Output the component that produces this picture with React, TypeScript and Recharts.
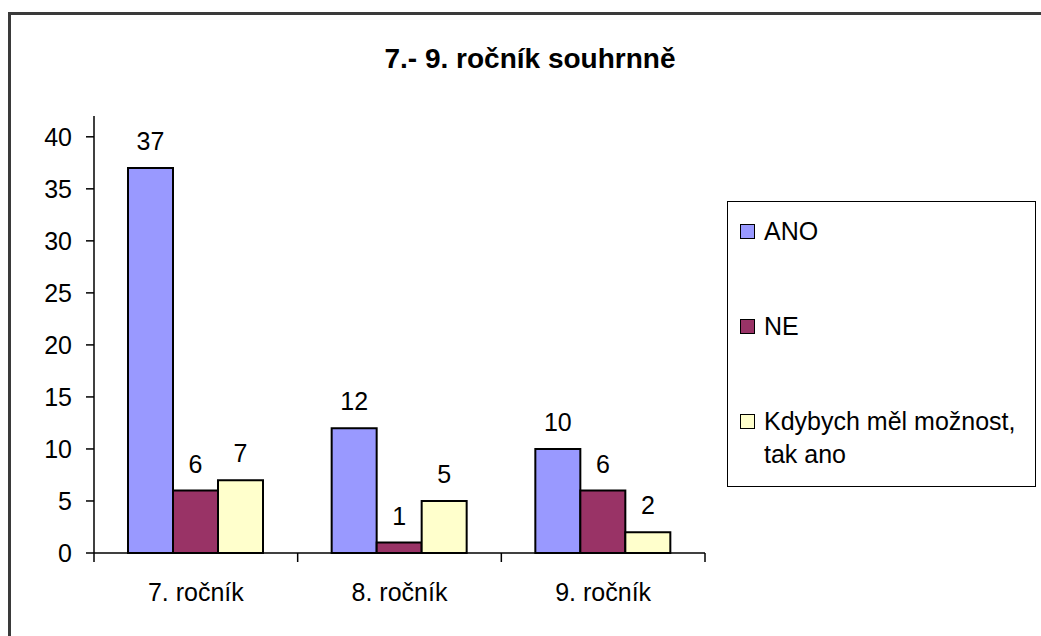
import React from 'react';
import { BarChart, Bar, XAxis, YAxis, CartesianGrid, Legend, LabelList } from 'recharts';

const categories = ['7. ročník', '8. ročník', '9. ročník'];
const anoValues = [37, 12, 10];
const neValues = [6, 1, 6];
const kdybyValues = [7, 5, 2];
const seriesNames = ['ANO', 'NE', 'Kdybych měl možnost, tak ano'];
const yTicks = [0, 5, 10, 15, 20, 25, 30, 35, 40];

const data = categories.map((cat, i) => ({
  cat,
  ano: anoValues[i],
  ne: neValues[i],
  kdyby: kdybyValues[i],
}));

const FONT = '"Liberation Sans", Arial, sans-serif';

function CategoryTick(props: any) {
  const { x, y, payload, index, visibleTicksCount } = props;
  const half = payload && payload.offset ? payload.offset : 611 / 6;
  return (
    <g>
      <line x1={x - half} x2={x - half} y1={y} y2={y + 9} stroke="#000" strokeWidth={1.5} />
      {index === visibleTicksCount - 1 && (
        <line x1={x + half} x2={x + half} y1={y} y2={y + 9} stroke="#000" strokeWidth={1.5} />
      )}
      <text x={x} y={y + 48} textAnchor="middle" fontSize={25} fill="#000">
        {payload.value}
      </text>
    </g>
  );
}

function LegendBox(props: any) {
  // keep the series order, not the alphabetical one
  const items = [...(props.payload || [])].sort(
    (a: any, b: any) => seriesNames.indexOf(a.value) - seriesNames.indexOf(b.value)
  );
  return (
    <div
      style={{
        boxSizing: 'border-box',
        width: 309,
        height: 286,
        border: '1.5px solid #000',
        background: '#fff',
        paddingTop: 13,
        paddingLeft: 12,
        fontFamily: FONT,
        fontSize: 25,
        color: '#000',
        textAlign: 'left',
      }}
    >
      {items.map((item: any, i: number) => (
        <div key={item.value} style={{ display: 'flex', alignItems: 'flex-start', marginTop: i === 0 ? 0 : 62 }}>
          <span
            style={{
              display: 'inline-block',
              boxSizing: 'border-box',
              width: 15,
              height: 15,
              marginTop: 9,
              marginRight: 9,
              border: '1.5px solid #000',
              background: item.color,
              flex: 'none',
            }}
          />
          <span style={{ lineHeight: '33px', width: 270 }}>{item.value}</span>
        </div>
      ))}
    </div>
  );
}

export default function App() {
  return (
    <div
      style={{
        position: 'absolute',
        left: 0,
        top: 0,
        width: 1041,
        height: 636,
        overflow: 'hidden',
        background: '#fff',
        fontFamily: FONT,
      }}
    >
      <div
        style={{
          position: 'absolute',
          left: 8,
          top: 12,
          width: 1100,
          height: 700,
          border: '3px solid #3a3a3a',
        }}
      />
      <div
        style={{
          position: 'absolute',
          left: 280,
          width: 500,
          top: 45,
          textAlign: 'center',
          fontSize: 28,
          lineHeight: '28px',
          fontWeight: 'bold',
          color: '#000',
        }}
      >
        7.- 9. ročník souhrnně
      </div>
      <div style={{ position: 'absolute', left: 0, top: 0 }}>
        <BarChart
          width={1041}
          height={636}
          data={data}
          margin={{ top: 116, right: 336, bottom: 0, left: 0 }}
          barCategoryGap={34}
          barGap={0}
        >
          <CartesianGrid horizontal={false} vertical={false} fill="#fff" />
          <XAxis
            dataKey="cat"
            height={83}
            tickLine={false}
            tickSize={0}
            tickMargin={0}
            axisLine={{ stroke: '#000', strokeWidth: 1.5 }}
            tick={<CategoryTick />}
            interval={0}
          />
          <XAxis
            xAxisId="top"
            dataKey="cat"
            orientation="top"
            height={0}
            tick={false}
            tickLine={false}
            axisLine={{ stroke: '#000', strokeWidth: 1.5 }}
          />
          <YAxis
            width={94}
            domain={[0, 42]}
            ticks={yTicks}
            interval={0}
            tickSize={8}
            tickMargin={14}
            axisLine={{ stroke: '#000', strokeWidth: 1.5 }}
            tickLine={{ stroke: '#000', strokeWidth: 1.5 }}
            tick={{ fontSize: 25, fill: '#000' }}
          />
          <YAxis
            yAxisId="right"
            orientation="right"
            width={0}
            type="number"
            domain={[0, 42]}
            tick={false}
            tickLine={false}
            axisLine={{ stroke: '#000', strokeWidth: 1.5 }}
          />
          <Legend
            layout="vertical"
            align="center"
            verticalAlign="middle"
            wrapperStyle={{ left: 727, top: 201, width: 309, height: 286 }}
            content={<LegendBox />}
          />
          <Bar dataKey="ano" name={seriesNames[0]} fill="#9999FF" stroke="#000" strokeWidth={2} isAnimationActive={false}>
            <LabelList dataKey="ano" position="top" offset={18} fontSize={25} fill="#000" />
          </Bar>
          <Bar dataKey="ne" name={seriesNames[1]} fill="#993366" stroke="#000" strokeWidth={2} isAnimationActive={false}>
            <LabelList dataKey="ne" position="top" offset={18} fontSize={25} fill="#000" />
          </Bar>
          <Bar dataKey="kdyby" name={seriesNames[2]} fill="#FFFFCC" stroke="#000" strokeWidth={2} isAnimationActive={false}>
            <LabelList dataKey="kdyby" position="top" offset={18} fontSize={25} fill="#000" />
          </Bar>
        </BarChart>
      </div>
    </div>
  );
}
